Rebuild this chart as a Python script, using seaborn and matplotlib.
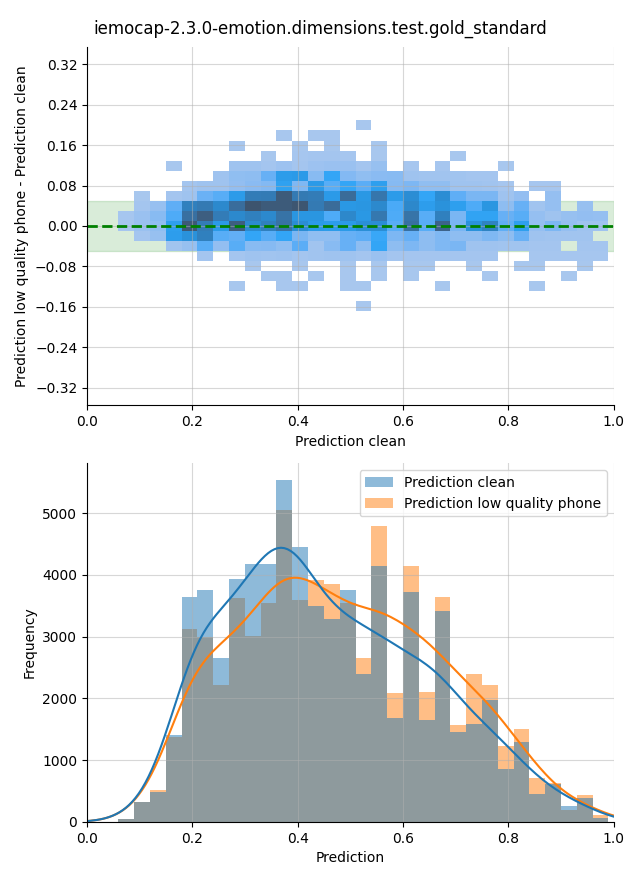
import numpy as np
import pandas as pd
import seaborn as sns
import matplotlib
matplotlib.use("Agg")
import matplotlib.pyplot as plt

# 1. 数据（从图中读取的分箱计数）
plot_title = "iemocap-2.3.0-emotion.dimensions.test.gold_standard"
series_names = ["Prediction clean", "Prediction low quality phone"]

# 下图：31 个分箱（0.059 ~ 0.990）的频数
counts_clean = [50, 325, 482, 1410, 3640, 3750, 2660, 3930, 4180, 4180, 5530,
                4450, 3500, 3280, 3750, 2400, 4150, 1690, 3730, 1655, 3410,
                1460, 1590, 1970, 860, 1300, 460, 620, 260, 390, 60]
counts_low_quality = [45, 320, 515, 1370, 3120, 2990, 2220, 3620, 3010, 3540, 5050,
                      3590, 3910, 3850, 3550, 2660, 4790, 2090, 4140, 2110, 3650,
                      1570, 2390, 2220, 1230, 1510, 715, 630, 195, 440, 115]

# 上图：每行是一个差值分箱，列与下图的分箱相同
diff_levels = [0.20, 0.18, 0.16, 0.14, 0.12, 0.10, 0.08, 0.06, 0.04, 0.02,
               0.00, -0.02, -0.04, -0.06, -0.08, -0.10, -0.12, -0.14, -0.16]
cell_counts = [
    [0, 0, 0, 0, 0, 0, 0, 0, 0, 0, 0, 0, 0, 0, 0, 20, 0, 0, 0, 0, 0, 0, 0, 0, 0, 0, 0, 0, 0, 0, 0],
    [0, 0, 0, 0, 0, 0, 0, 0, 0, 0, 20, 0, 20, 20, 0, 0, 0, 0, 0, 0, 0, 0, 0, 0, 0, 0, 0, 0, 0, 0, 0],
    [0, 0, 0, 0, 0, 0, 0, 20, 0, 0, 0, 20, 0, 20, 0, 0, 20, 0, 0, 0, 0, 0, 0, 0, 0, 0, 0, 0, 0, 0, 0],
    [0, 0, 0, 0, 0, 0, 0, 0, 0, 20, 0, 30, 40, 40, 30, 0, 20, 0, 0, 0, 0, 20, 0, 0, 0, 0, 0, 0, 0, 0, 0],
    [0, 0, 0, 20, 0, 0, 0, 60, 60, 40, 70, 40, 70, 80, 80, 40, 90, 0, 30, 0, 30, 0, 0, 0, 20, 0, 0, 0, 0, 0, 0],
    [0, 0, 0, 0, 0, 0, 60, 120, 130, 260, 460, 480, 150, 380, 170, 120, 140, 150, 60, 50, 50, 50, 40, 40, 0, 0, 0, 0, 0, 0, 0],
    [0, 0, 0, 0, 40, 60, 60, 110, 140, 170, 420, 180, 480, 300, 380, 290, 440, 160, 190, 120, 120, 60, 60, 50, 30, 0, 30, 30, 0, 0, 0],
    [0, 20, 0, 40, 60, 250, 300, 470, 760, 770, 1080, 780, 760, 480, 920, 500, 820, 470, 600, 380, 600, 280, 200, 200, 60, 110, 0, 100, 0, 0, 0],
    [0, 40, 90, 280, 720, 780, 640, 900, 1150, 1080, 1080, 1130, 780, 920, 500, 520, 640, 330, 650, 450, 560, 440, 320, 520, 130, 260, 50, 100, 0, 90, 0],
    [30, 80, 150, 320, 880, 1050, 760, 640, 720, 640, 850, 520, 520, 320, 650, 500, 800, 320, 840, 300, 720, 200, 400, 400, 260, 300, 100, 60, 90, 110, 100],
    [30, 80, 120, 440, 1100, 760, 480, 1050, 620, 720, 860, 600, 480, 460, 480, 580, 600, 300, 880, 300, 1000, 200, 560, 700, 280, 440, 100, 190, 100, 60, 60],
    [0, 40, 90, 450, 560, 720, 300, 270, 380, 300, 380, 200, 120, 120, 260, 280, 360, 190, 260, 130, 180, 130, 130, 180, 130, 250, 60, 50, 50, 50, 0],
    [0, 0, 0, 50, 90, 300, 110, 300, 150, 160, 120, 290, 50, 150, 260, 130, 380, 130, 190, 130, 180, 200, 60, 60, 50, 50, 40, 40, 0, 40, 40],
    [0, 0, 0, 0, 0, 40, 0, 40, 60, 50, 60, 40, 50, 60, 60, 40, 80, 40, 40, 40, 40, 40, 40, 40, 0, 0, 30, 30, 30, 30, 30],
    [0, 0, 0, 0, 0, 0, 0, 0, 20, 0, 0, 20, 0, 0, 20, 0, 20, 0, 20, 20, 0, 0, 20, 0, 0, 20, 20, 0, 0, 20, 0],
    [0, 0, 0, 0, 0, 0, 0, 0, 0, 20, 20, 0, 20, 0, 20, 0, 20, 0, 20, 0, 0, 0, 0, 20, 0, 0, 0, 0, 20, 0, 0],
    [0, 0, 0, 0, 0, 0, 0, 20, 0, 0, 20, 20, 0, 0, 20, 20, 0, 0, 0, 0, 20, 0, 0, 0, 0, 0, 20, 0, 0, 0, 0],
    [0, 0, 0, 0, 0, 0, 0, 0, 0, 0, 0, 0, 0, 0, 0, 0, 0, 0, 0, 0, 0, 0, 0, 0, 0, 0, 0, 0, 0, 0, 0],
    [0, 0, 0, 0, 0, 0, 0, 0, 0, 0, 0, 0, 0, 0, 0, 20, 0, 0, 0, 0, 0, 0, 0, 0, 0, 0, 0, 0, 0, 0, 0],
]

# 2. 整理成 seaborn 需要的长表
pred_edges = np.linspace(0.0594, 0.990, len(counts_clean) + 1)
pred_centers = (pred_edges[:-1] + pred_edges[1:]) / 2
diff_edges = np.linspace(-0.1692, 0.2089, len(diff_levels) + 1)

hist_df = pd.DataFrame({
    "Prediction": np.tile(pred_centers, 2),
    "count": counts_clean + counts_low_quality,
    "series": np.repeat(series_names, len(pred_centers)),
})

cells = np.array(cell_counts)
rows, cols = np.nonzero(cells)
grid_df = pd.DataFrame({
    "Prediction clean": pred_centers[cols],
    "diff": np.array(diff_levels)[rows],
    "count": cells[rows, cols],
})

# 3. 画图
fig, (ax_top, ax_bottom) = plt.subplots(2, 1, figsize=(6.4, 8.8))
fig.subplots_adjust(left=0.136, right=0.959, top=0.947, bottom=0.066, hspace=0.162)

ax_top.axhspan(-0.05, 0.05, color="green", alpha=0.15)
sns.histplot(data=grid_df, x="Prediction clean", y="diff", weights="count",
             bins=[list(pred_edges), list(diff_edges)], ax=ax_top)
ax_top.axhline(0, color="green", linestyle="--", linewidth=2)
ax_top.set_xlim(0, 1)
ax_top.set_ylim(-0.355, 0.355)
ax_top.set_yticks(np.round(np.linspace(-0.32, 0.32, 9), 2))
ax_top.set_xlabel("Prediction clean")
ax_top.set_ylabel("Prediction low quality phone - Prediction clean")
ax_top.grid(True, alpha=0.5)

# 核密度曲线比柱子平滑，适当加大带宽
sns.histplot(data=hist_df, x="Prediction", weights="count", hue="series",
             hue_order=series_names, bins=list(pred_edges), kde=True,
             kde_kws={"bw_adjust": 0.45, "cut": 3}, edgecolor="none", ax=ax_bottom)
sns.move_legend(ax_bottom, "upper right", title=None)
ax_bottom.set_xlim(0, 1)
ax_bottom.set_xlabel("Prediction")
ax_bottom.set_ylabel("Frequency")
ax_bottom.grid(True, alpha=0.5)

sns.despine(fig)
fig.suptitle(plot_title, fontsize=12, y=0.978)
fig.savefig("out.png", dpi=100)
